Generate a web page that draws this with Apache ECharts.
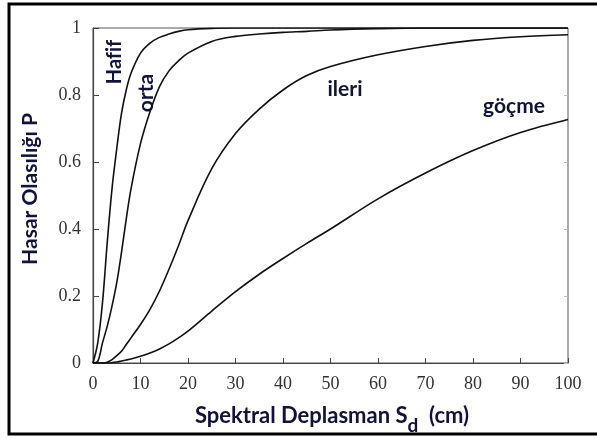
<!DOCTYPE html>
<html><head><meta charset="utf-8">
<script src="https://cdn.jsdelivr.net/npm/echarts@6/dist/echarts.min.js"></script>
<style>html,body{margin:0;padding:0;background:#fff}#c{width:597px;height:439px}</style>
</head><body><div id="c"></div>
<script>
const xValues = [0,1,2,3,4,5,6,7,8,10,12,14,16,18,20,25,30,35,40,45,50,60,70,80,90,100];
const hafif = [0,0.06,0.18,0.36,0.52,0.64,0.745,0.815,0.865,0.925,0.955,0.972,0.982,0.99,0.995,0.999,1,1,1,1,1,1,1,1,1,1];
const orta  = [0,0.005,0.06,0.11,0.17,0.24,0.33,0.43,0.52,0.655,0.75,0.825,0.872,0.902,0.925,0.96,0.975,0.982,0.987,0.99,0.994,0.998,1,1,1,1];
const ileri = [0,0,0,0.002,0.01,0.022,0.035,0.055,0.075,0.115,0.16,0.215,0.28,0.35,0.425,0.58,0.685,0.758,0.815,0.858,0.885,0.92,0.945,0.963,0.974,0.98];
const gocme = [0,0,0,0,0.001,0.003,0.006,0.009,0.012,0.02,0.03,0.042,0.057,0.075,0.095,0.155,0.213,0.265,0.312,0.357,0.40,0.49,0.567,0.634,0.688,0.727];
const seriesNames = ['Hafif','orta','ileri','göçme'];
const xTicks = [0,10,20,30,40,50,60,70,80,90,100];
const yTicks = [0,0.2,0.4,0.6,0.8,1];

const chart = echarts.init(document.getElementById('c'), null, {renderer:'canvas'});
const pair = arr => xValues.map((x,i)=>[x,arr[i]]);
const lineStyle = {color:'#111', width:1.6};
const mk = (name, arr) => ({name, type:'line', data:pair(arr), smooth:0.35, symbol:'none', lineStyle, z:3});
const labelFont = '"Lato", "Liberation Sans", sans-serif';
const txtColor = '#12123a';
// split the word into two fragments so canvas does not draw an "fi" ligature
const noLig = s => { const k = s.indexOf('fi'); return k < 0 ? '{w|'+s+'}' : '{w|'+s.slice(0,k+1)+'}{w|'+s.slice(k+1)+'}'; };
chart.setOption({
  animation:false,
  grid:{left:93, right:29, top:28, bottom:76, show:true, borderColor:'#555', borderWidth:1},
  xAxis:{type:'value', min:0, max:100, interval:10,
    axisLine:{show:true, lineStyle:{color:'#444', width:1.2}},
    axisTick:{show:true, inside:true, length:5, lineStyle:{color:'#444'}},
    splitLine:{show:false},
    axisLabel:{fontFamily:'"Liberation Serif", serif', fontSize:18, color:'#333', margin:12,
      formatter:v=>xTicks.includes(v)?String(v):''}},
  yAxis:[{type:'value', min:0, max:1, interval:0.2,
    axisLine:{show:true, lineStyle:{color:'#444', width:1.2}},
    axisTick:{show:true, inside:true, length:6, lineStyle:{color:'#444'}},
    splitLine:{show:false},
    axisLabel:{fontFamily:'"Liberation Serif", serif', fontSize:18, color:'#333', margin:12,
      formatter:v=>{const t=yTicks.find(k=>Math.abs(k-v)<1e-6); return t===undefined?'':(t===0||t===1?String(t):t.toFixed(1));}}},
   {type:'value', min:0, max:1, interval:0.2, position:'right',
    axisLine:{show:false}, axisTick:{show:true, inside:true, length:4, lineStyle:{color:'#bbb'}},
    axisLabel:{show:false}, splitLine:{show:false}}],
  series:[mk(seriesNames[0],hafif), mk(seriesNames[1],orta), mk(seriesNames[2],ileri), mk(seriesNames[3],gocme)],
  graphic:[
    {type:'rect', shape:{x:9, y:4, width:600, height:430}, style:{fill:'none', stroke:'#000', lineWidth:3}, silent:true},
    {type:'text', x:115, y:62, rotation:Math.PI/2, style:{text:noLig(seriesNames[0]), textAlign:'center', textVerticalAlign:'middle',
      rich:{w:{font:'bold 20px '+labelFont, fill:txtColor, color:txtColor}}}},
    {type:'text', x:146, y:93, rotation:Math.PI/2, style:{text:seriesNames[1], font:'bold 21px '+labelFont, fill:txtColor, textAlign:'center', textVerticalAlign:'middle'}},
    {type:'text', x:345, y:89, style:{text:seriesNames[2], font:'bold 21px '+labelFont, fill:txtColor, textAlign:'center', textVerticalAlign:'middle'}},
    {type:'text', x:514, y:106, style:{text:seriesNames[3], font:'bold 21px '+labelFont, fill:txtColor, textAlign:'center', textVerticalAlign:'middle'}},
    {type:'text', x:30, y:189, rotation:Math.PI/2, style:{text:'Hasar Olasılığı P', font:'bold 21px '+labelFont, fill:txtColor, textAlign:'center', textVerticalAlign:'middle'}},
    {type:'text', x:332, y:418, style:{
      text:'{a|Spektral Deplasman S}{s|d}{a|  (cm)}', textAlign:'center', textVerticalAlign:'middle',
      rich:{a:{font:'bold 22px '+labelFont, fill:txtColor, color:txtColor, lineHeight:26, verticalAlign:'top'},
            s:{font:'bold 19px '+labelFont, fill:txtColor, color:txtColor, lineHeight:26, padding:[11,0,0,0], verticalAlign:'top'}}}}
  ]
});
</script></body></html>
